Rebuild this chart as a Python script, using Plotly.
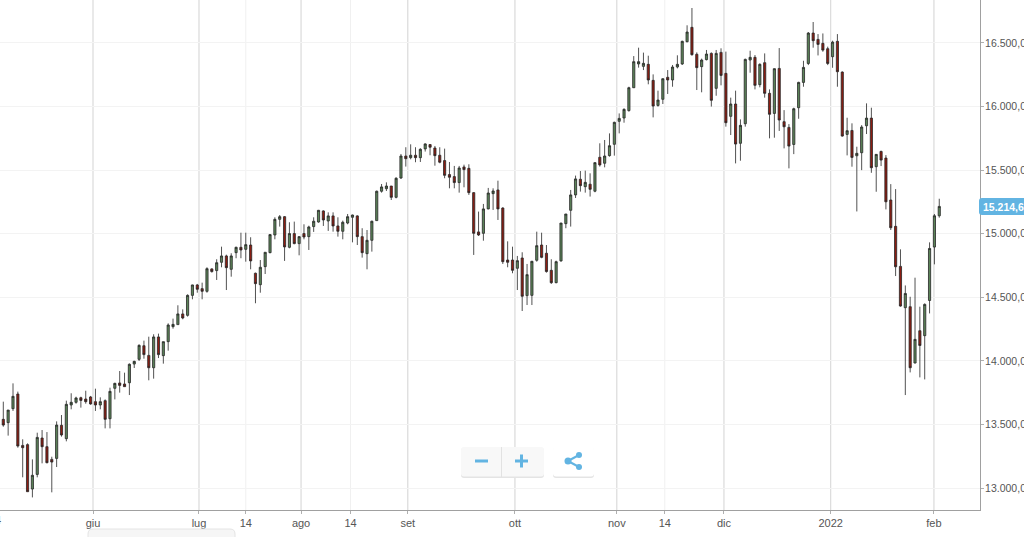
import plotly.graph_objects as go

opens = [13540, 13514, 13624, 13739, 13335, 13341, 12992, 13107, 13393, 13325, 13225, 13233, 13493, 13388,
         13653, 13674, 13710, 13700, 13716, 13679, 13653, 13687, 13545, 13784, 13826, 13818, 13828, 13975,
         14012, 14119, 14043, 13946, 14188, 14041, 14151, 14269, 14285, 14369, 14358, 14515, 14597,
         14568, 14547, 14723, 14710, 14775, 14825, 14720, 14851, 14893, 14877, 14911, 14689, 14599, 14741,
         14851, 14990, 15113, 15134, 14893, 15001, 14922, 15001, 14977, 15056, 15092, 15179, 15100, 15140,
         15061, 15019, 15084, 15129, 15140, 14977, 14843, 14948, 15103, 15334, 15354, 15375, 15286, 15438, 15611,
         15598, 15617, 15598, 15667, 15701, 15674, 15617, 15575, 15465, 15449, 15402, 15525, 15514, 15323,
         15014, 15003, 15195, 15315, 15344, 15202, 14793, 14793, 14728, 14809, 14513, 14515, 14791, 14911,
         14846, 14712, 14615, 14786, 15079, 15184, 15305, 15428, 15370, 15389, 15334, 15601, 15554,
         15614, 15703, 15884, 15910, 15968, 16148, 16335, 16316, 16332, 16206, 16009, 16057, 16230, 16209,
         16311, 16335, 16510, 16623, 16411, 16314, 16369, 16418, 16143, 16426, 16261, 15923, 16020, 15711,
         15865, 16366, 16387, 16172, 16345, 16104, 15946, 16300, 15881, 15836, 15702, 15991, 16190, 16339,
         16578, 16528, 16497, 16455, 16392, 16513, 16271, 15781, 15812, 15613, 15637, 15849, 15909, 15527,
         15647, 15595, 15265, 15058, 14743, 14418, 14426, 13983, 14237, 14198, 14475, 14895, 15141]
closes = [13495, 13613, 13721, 13330, 13317, 12971, 13100, 13398, 13325, 13199, 13204, 13495, 13417, 13658,
          13674, 13708, 13689, 13679, 13661, 13653, 13679, 13540, 13760, 13823, 13807, 13797, 13973, 13996,
          14122, 14049, 13946, 14188, 14049, 14151, 14282, 14287, 14369, 14337, 14515, 14597, 14563,
          14547, 14725, 14702, 14772, 14825, 14733, 14825, 14893, 14872, 14914, 14786, 14607, 14736, 14854,
          14993, 15113, 15134, 14896, 15001, 14922, 14977, 14974, 15053, 15098, 15184, 15108, 15140, 15061,
          15019, 15090, 15134, 15147, 14977, 14851, 14948, 15098, 15334, 15368, 15375, 15286, 15436, 15611, 15590,
          15617, 15598, 15664, 15706, 15680, 15614, 15562, 15459, 15444, 15402, 15517, 15504, 15323, 15003,
          14990, 15195, 15320, 15336, 15195, 14780, 14775, 14712, 14788, 14508, 14678, 14783, 14906, 14814,
          14702, 14615, 14780, 15084, 15155, 15305, 15431, 15378, 15404, 15349, 15559, 15541, 15611,
          15692, 15876, 15907, 15978, 16148, 16353, 16353, 16340, 16209, 16004, 16051, 16219, 16209, 16311,
          16332, 16513, 16586, 16408, 16306, 16366, 16413, 16049, 16418, 16245, 15873, 16020, 15705, 15852,
          16371, 16387, 16167, 16332, 16104, 15939, 16298, 15894, 15841, 15689, 15983, 16190, 16308, 16578,
          16518, 16489, 16444, 16339, 16507, 16274, 15768, 15810, 15600, 15632, 15839, 15909, 15519, 15624,
          15579, 15251, 15047, 14740, 14431, 14530, 13946, 14169, 14121, 14444, 14884, 15141, 15214.6]
highs = [13679, 13613, 13823, 13758, 13383, 13351, 13225, 13435, 13456, 13440, 13246, 13524, 13574, 13687,
         13745, 13718, 13718, 13765, 13724, 13781, 13713, 13697, 13789, 13828, 13920, 13907, 13980, 14001,
         14130, 14159, 14190, 14209, 14214, 14151, 14295, 14332, 14437, 14405, 14523, 14599, 14605,
         14615, 14736, 14728, 14799, 14898, 14835, 14846, 14898, 15008, 15008, 14972, 14694, 14793, 14854,
         14995, 15129, 15147, 15139, 15090, 15095, 14982, 15074, 15063, 15129, 15187, 15184, 15168, 15168,
         15129, 15103, 15155, 15150, 15145, 15043, 15029, 15103, 15339, 15391, 15404, 15375, 15444, 15627, 15680,
         15703, 15680, 15672, 15711, 15703, 15690, 15680, 15669, 15564, 15533, 15533, 15543, 15546, 15328,
         15174, 15234, 15360, 15357, 15417, 15208, 14940, 14898, 14825, 14854, 14762, 14786, 15016, 15008,
         14911, 14799, 14788, 15084, 15155, 15344, 15457, 15493, 15496, 15475, 15562, 15711, 15737,
         15789, 15881, 15946, 15986, 16156, 16397, 16463, 16424, 16400, 16253, 16125, 16222, 16287, 16327,
         16403, 16518, 16639, 16775, 16426, 16377, 16445, 16426, 16445, 16458, 16432, 16070, 16125, 15899,
         16377, 16439, 16405, 16340, 16418, 16135, 16300, 16460, 15972, 15862, 15991, 16195, 16360, 16586,
         16665, 16570, 16575, 16471, 16518, 16570, 16277, 15912, 15868, 15684, 15854, 16025, 15991, 15626,
         15653, 15618, 15390, 15351, 14877, 14593, 14504, 14654, 14426, 14452, 14932, 15155, 15275]
lows = [13482, 13412, 13606, 13317, 13084, 12971, 12926, 13084, 13194, 13194, 12966, 13165, 13404, 13367,
        13619, 13663, 13632, 13663, 13655, 13606, 13619, 13469, 13469, 13697, 13750, 13797, 13731, 13944,
        13999, 14017, 13847, 13860, 14022, 13978, 14080, 14253, 14285, 14327, 14348, 14484, 14536,
        14484, 14536, 14694, 14636, 14736, 14557, 14662, 14807, 14807, 14780, 14720, 14453, 14536, 14683,
        14846, 14956, 15056, 14786, 14885, 14917, 14830, 14956, 14872, 15014, 15087, 15061, 15022, 15016,
        14977, 14956, 15074, 14932, 14911, 14812, 14720, 14859, 15100, 15323, 15336, 15265, 15278, 15431, 15528,
        15585, 15562, 15564, 15646, 15617, 15535, 15554, 15436, 15357, 15357, 15323, 15365, 15305, 14833,
        14982, 14945, 15192, 15187, 15108, 14762, 14736, 14689, 14557, 14392, 14439, 14439, 14780, 14807,
        14694, 14605, 14610, 14780, 15043, 15056, 15281, 15331, 15323, 15292, 15326, 15528, 15522,
        15606, 15614, 15789, 15873, 15960, 16146, 16306, 16287, 16175, 15915, 15999, 16020, 16099, 16156,
        16300, 16327, 16505, 16400, 16130, 16112, 16363, 16000, 16085, 16167, 15842, 15776, 15553, 15574,
        15842, 16266, 16135, 16151, 16070, 15750, 15755, 15808, 15671, 15514, 15626, 15904, 16156, 16326,
        16463, 16402, 16431, 16326, 16305, 16156, 15763, 15616, 15527, 15175, 15500, 15784, 15479, 15330,
        15532, 15191, 15029, 14667, 14426, 13731, 13909, 13980, 13870, 13854, 14373, 14759, 15126]

price_ticks = [13000, 13500, 14000, 14500, 15000, 15500, 16000, 16500]
price_labels = ["13.000,00", "13.500,00", "14.000,00", "14.500,00", "15.000,00",
                "15.500,00", "16.000,00", "16.500,00"]
# month starts and mid-month marks, as candle positions
month_ticks = [18.5, 40.35, 61.4, 83.4, 105.5, 126.5, 148.6, 170.6, 191.9]
month_labels = ["giu", "lug", "ago", "set", "ott", "nov", "dic", "2022", "feb"]
mid_ticks = [50, 71.6, 136.4]
mid_labels = ["14", "14", "14"]
last_price = "15.214,60"

W, H = 1024, 537
PLOT_W, PLOT_H = 980, 510
BLUE = "#62b4e2"


def px(x):
    return x / PLOT_W


def py(y):
    return 1 - y / PLOT_H


def round_box(x0, y0, x1, y1, r, fill, line="rgba(0,0,0,0)"):
    path = (f"M {px(x0 + r)} {py(y0)} L {px(x1 - r)} {py(y0)} Q {px(x1)} {py(y0)} {px(x1)} {py(y0 + r)} "
            f"L {px(x1)} {py(y1 - r)} Q {px(x1)} {py(y1)} {px(x1 - r)} {py(y1)} "
            f"L {px(x0 + r)} {py(y1)} Q {px(x0)} {py(y1)} {px(x0)} {py(y1 - r)} "
            f"L {px(x0)} {py(y0 + r)} Q {px(x0)} {py(y0)} {px(x0 + r)} {py(y0)} Z")
    return dict(type="path", xref="paper", yref="paper", path=path, fillcolor=fill,
                line=dict(color=line, width=1), layer="above")


def seg(x0, y0, x1, y1, color, width):
    return dict(type="line", xref="paper", yref="paper", x0=px(x0), y0=py(y0), x1=px(x1), y1=py(y1),
                line=dict(color=color, width=width), layer="above")


def dot(x, y, r, color):
    return dict(type="circle", xref="paper", yref="paper", x0=px(x - r), x1=px(x + r),
                y0=py(y + r), y1=py(y - r), fillcolor=color, line=dict(width=0), layer="above")


def vline(x, color, width):
    return dict(type="line", xref="x", yref="paper", x0=x, x1=x, y0=0, y1=1,
                line=dict(color=color, width=width), layer="below")


fig = go.Figure(go.Candlestick(
    x=list(range(len(opens))),
    open=opens, high=highs, low=lows, close=closes,
    increasing=dict(line=dict(color="#262626", width=0.8), fillcolor="#5c8459"),
    decreasing=dict(line=dict(color="#262626", width=0.8), fillcolor="#8c1d12"),
    whiskerwidth=0,
    showlegend=False,
))

shapes = [vline(t, "#dddddd", 1.3) for t in month_ticks] + [vline(t, "#f0f0f0", 1) for t in mid_ticks] + [
    # zoom and share buttons
    round_box(461, 448, 544, 478, 3, "#e4e4e4"),
    round_box(461, 447, 544, 476.5, 3, "#f8f8f8"),
    seg(501.5, 447, 501.5, 477, "#e2e2e2", 1),
    seg(475, 461, 488, 461, BLUE, 3),
    seg(515, 461, 528, 461, BLUE, 3),
    seg(521.5, 454.5, 521.5, 467.5, BLUE, 3),
    round_box(553, 448, 594, 478, 3, "#e4e4e4"),
    round_box(553, 447, 594, 476.5, 3, "#ffffff"),
    seg(568, 461, 579, 455, BLUE, 2),
    seg(568, 461, 579, 467, BLUE, 2),
    dot(568, 461, 3.5, BLUE),
    dot(579, 455, 3, BLUE),
    dot(579, 467, 3, BLUE),
    # price tag
    round_box(979, 198, 1040, 215, 3, BLUE),
    # panel cut off by the bottom edge
    round_box(88, 529, 235, 560, 5, "#f6f6f6", "#e4e4e4"),
]

fig.update_layout(
    width=W, height=H,
    margin=dict(l=0, r=W - PLOT_W, t=0, b=H - PLOT_H, autoexpand=False),
    paper_bgcolor="white",
    plot_bgcolor="white",
    font=dict(family="Liberation Sans", size=11, color="#555555"),
    showlegend=False,
    boxgap=0.36,
    shapes=shapes,
    annotations=[
        dict(xref="paper", yref="paper", x=px(983), y=py(206.5), text=f"<b>{last_price}</b>", showarrow=False,
             xanchor="left", yanchor="middle", xshift=-2, font=dict(size=10.5, color="white"),
             align="left"),
        dict(xref="paper", yref="paper", x=px(2.5), y=py(528), text="14", showarrow=False, xanchor="right",
             yanchor="bottom", font=dict(size=11, color="#555555")),
    ],
    xaxis=dict(
        range=[-0.68, 201.4],
        rangeslider=dict(visible=False),
        tickmode="array",
        tickvals=month_ticks + mid_ticks,
        ticktext=month_labels + mid_labels,
        tickangle=0,
        ticks="outside", ticklen=3, tickcolor="#b0b0b0",
        showgrid=False,
        showline=True, linecolor="#a0a0a0", linewidth=1,
        zeroline=False, automargin=False,
        tickfont=dict(size=11, color="#555555"),
    ),
    yaxis=dict(
        side="right",
        range=[12827, 16838],
        tickmode="array",
        tickvals=price_ticks,
        ticktext=price_labels,
        ticks="outside", ticklen=3, tickcolor="#b0b0b0",
        ticklabelstandoff=-1,
        showgrid=True, gridcolor="#f3f3f3", gridwidth=1,
        showline=True, linecolor="#a0a0a0", linewidth=1,
        zeroline=False, automargin=False,
        tickfont=dict(size=10.5, color="#555555"),
    ),
)

fig.write_html("out.html", config={"displayModeBar": False},
               post_script="document.body.style.margin='0';document.body.style.overflow='hidden';")
